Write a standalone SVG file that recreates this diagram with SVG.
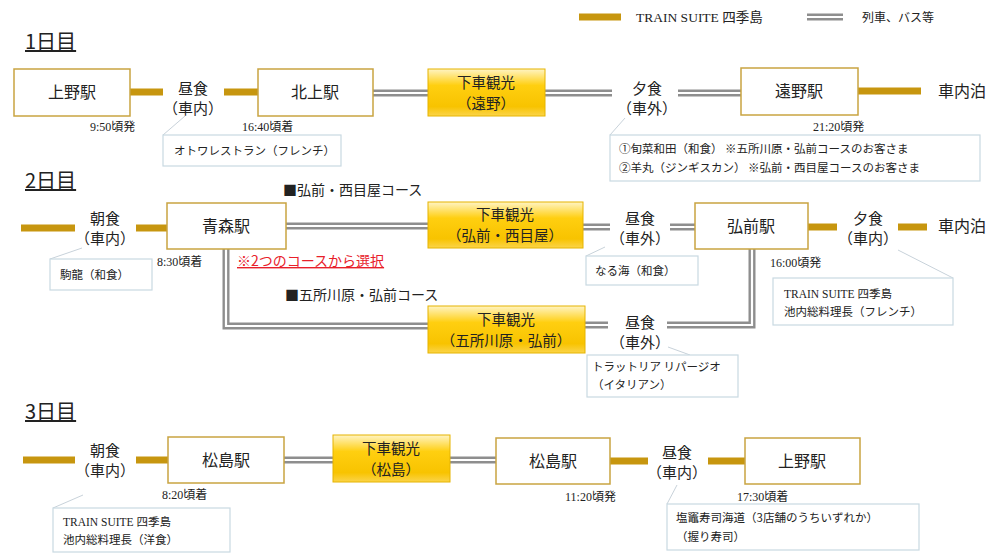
<svg xmlns="http://www.w3.org/2000/svg" width="1005" height="559" viewBox="0 0 1005 559">
<defs>
<linearGradient id="gold" x1="0" y1="0" x2="0" y2="1">
<stop offset="0" stop-color="#fff4c4"/>
<stop offset="0.35" stop-color="#ffcf10"/>
<stop offset="0.8" stop-color="#f8c300"/>
<stop offset="1" stop-color="#fbd44a"/>
</linearGradient>
<style>
text{font-family:"Noto Sans CJK JP","Liberation Sans",sans-serif;fill:#222}
.st{fill:#fff;stroke:#c9a441;stroke-width:1.5}
.sg{fill:url(#gold);stroke:#e6b400;stroke-width:1}
.nl{font-size:16px;text-anchor:middle}
.gl{font-size:14.5px;text-anchor:middle}
.ml{font-size:15px;text-anchor:middle}
.tm{font-family:"Liberation Serif","Noto Sans CJK JP",serif;font-size:12px}
.cb{fill:#fff;stroke:#c9d9e2;stroke-width:1.2}
.ct{font-size:11.5px}
.ld{stroke:#c8d2da;stroke-width:1;fill:none}
.gb{stroke:#c7960f;stroke-width:7;fill:none}
.dbo{stroke:#8e8e8e;stroke-width:7;fill:none}
.dbi{stroke:#fff;stroke-width:2.2;fill:none}
.day{font-size:20px;text-decoration:underline}
.crs{font-size:14px}
</style>
</defs>

<!-- legend -->
<g id="legend">
<line class="gb" x1="579" y1="17" x2="621" y2="17"/>
<text class="tm" x="636" y="22" style="font-size:13.5px">TRAIN SUITE 四季島</text>
<line class="dbo" x1="807" y1="17" x2="843" y2="17"/>
<line class="dbi" x1="807" y1="17" x2="843" y2="17"/>
<text x="862" y="22" style="font-size:12px">列車、バス等</text>
</g>

<!-- day headers -->
<text class="day" x="25" y="49">1日目</text>
<text class="day" x="25" y="188">2日目</text>
<text class="day" x="25" y="419">3日目</text>

<!-- connectors -->
<g id="connectors">
<!-- day 1 -->
<line class="gb" x1="130" y1="92" x2="163" y2="92"/>
<line class="gb" x1="224" y1="92" x2="258" y2="92"/>
<path class="dbo" d="M373 93H428M545 93H612M678 93H741"/>
<path class="dbi" d="M373 93H428M545 93H612M678 93H741"/>
<line class="gb" x1="858" y1="91" x2="921" y2="91"/>
<!-- day 2 -->
<line class="gb" x1="21" y1="228" x2="75" y2="228"/>
<line class="gb" x1="136" y1="228" x2="167" y2="228"/>
<path class="dbo" d="M286 226H428M583 227H610M670 227H695M226 249V326H428M585 325H608M667 325H752V249"/>
<path class="dbi" d="M286 226H428M583 227H610M670 227H695M226 249V326H428M585 325H608M667 325H752V249"/>
<line class="gb" x1="808" y1="227" x2="837" y2="227"/>
<line class="gb" x1="898" y1="227" x2="927" y2="227"/>
<!-- day 3 -->
<line class="gb" x1="23" y1="460" x2="75" y2="460"/>
<line class="gb" x1="136" y1="460" x2="168" y2="460"/>
<path class="dbo" d="M284 460H333M450 460H496"/>
<path class="dbi" d="M284 460H333M450 460H496"/>
<line class="gb" x1="610" y1="461" x2="648" y2="461"/>
<line class="gb" x1="708" y1="461" x2="745" y2="461"/>
<!-- leaders -->
<path class="ld" d="M185 116L163 135M625 118L610 135M82 248L50 259M605 247L586 256M898 250L953 278M668 347L690 355M83 495L53 508M677 485L667 504"/>
</g>

<!-- day 1 nodes -->
<g id="d1-ueno"><rect class="st" x="14" y="69" width="116" height="47"/><text class="nl" x="72" y="98">上野駅</text></g>
<g id="d1-lunch"><text class="ml" x="193" y="94">昼食</text><text class="ml" x="193" y="114">（車内）</text></g>
<g id="d1-kitakami"><rect class="st" x="258" y="69" width="115" height="47"/><text class="nl" x="315" y="98">北上駅</text></g>
<g id="d1-tono-sight"><rect class="sg" x="428" y="69" width="117" height="47"/><text class="gl" x="486" y="88">下車観光</text><text class="gl" x="486" y="109">（遠野）</text></g>
<g id="d1-dinner"><text class="ml" x="647" y="94">夕食</text><text class="ml" x="647" y="114">（車外）</text></g>
<g id="d1-tono"><rect class="st" x="741" y="68" width="117" height="47"/><text class="nl" x="799" y="97">遠野駅</text></g>
<g id="d1-stay"><text class="nl" x="962" y="97">車内泊</text></g>
<text class="tm" x="90" y="131">9:50頃発</text>
<text class="tm" x="242" y="131">16:40頃着</text>
<text class="tm" x="813" y="131">21:20頃発</text>
<g id="d1-c1"><rect class="cb" x="163" y="135" width="178" height="31"/><text class="ct" x="174" y="155">オトワレストラン（フレンチ）</text></g>
<g id="d1-c2"><rect class="cb" x="610" y="135" width="370" height="46"/><text class="ct" x="619" y="153">①旬菜和田（和食） ※五所川原・弘前コースのお客さま</text><text class="ct" x="619" y="172">②羊丸（ジンギスカン） ※弘前・西目屋コースのお客さま</text></g>

<!-- day 2 nodes -->
<g id="d2-breakfast"><text class="ml" x="105" y="224">朝食</text><text class="ml" x="105" y="244">（車内）</text></g>
<g id="d2-aomori"><rect class="st" x="167" y="203" width="119" height="46"/><text class="nl" x="226" y="232">青森駅</text></g>
<text class="crs" x="283" y="195">■弘前・西目屋コース</text>
<text x="237" y="266" style="font-size:14px;fill:#e8202a;text-decoration:underline">※2つのコースから選択</text>
<text class="crs" x="285" y="300">■五所川原・弘前コース</text>
<g id="d2-sight-a"><rect class="sg" x="428" y="202" width="155" height="46"/><text class="gl" x="505" y="220">下車観光</text><text class="gl" x="505" y="241">（弘前・西目屋）</text></g>
<g id="d2-sight-b"><rect class="sg" x="428" y="306" width="157" height="47"/><text class="gl" x="506" y="325">下車観光</text><text class="gl" x="506" y="346">（五所川原・弘前）</text></g>
<g id="d2-lunch-a"><text class="ml" x="640" y="224">昼食</text><text class="ml" x="640" y="244">（車外）</text></g>
<g id="d2-lunch-b"><text class="ml" x="640" y="328">昼食</text><text class="ml" x="640" y="348">（車外）</text></g>
<g id="d2-hirosaki"><rect class="st" x="695" y="203" width="113" height="46"/><text class="nl" x="751" y="232">弘前駅</text></g>
<g id="d2-dinner"><text class="ml" x="868" y="224">夕食</text><text class="ml" x="868" y="244">（車内）</text></g>
<g id="d2-stay"><text class="nl" x="962" y="232">車内泊</text></g>
<text class="tm" x="157" y="266">8:30頃着</text>
<text class="tm" x="770" y="267">16:00頃発</text>
<g id="d2-c1"><rect class="cb" x="50" y="259" width="102" height="31"/><text class="ct" x="60" y="279">駒龍（和食）</text></g>
<g id="d2-c2"><rect class="cb" x="586" y="256" width="112" height="29"/><text class="ct" x="595" y="275">なる海（和食）</text></g>
<g id="d2-c3"><rect class="cb" x="773" y="278" width="180" height="47"/><text class="ct tm" x="784" y="298">TRAIN SUITE 四季島</text><text class="ct" x="784" y="316">池内総料理長（フレンチ）</text></g>
<g id="d2-c4"><rect class="cb" x="587" y="355" width="151" height="42"/><text class="ct" x="592" y="371">トラットリア リパージオ</text><text class="ct" x="592" y="389">（イタリアン）</text></g>

<!-- day 3 nodes -->
<g id="d3-breakfast"><text class="ml" x="105" y="456">朝食</text><text class="ml" x="105" y="476">（車内）</text></g>
<g id="d3-matsushima1"><rect class="st" x="168" y="437" width="116" height="46"/><text class="nl" x="226" y="466">松島駅</text></g>
<g id="d3-sight"><rect class="sg" x="333" y="435" width="117" height="47"/><text class="gl" x="391" y="454">下車観光</text><text class="gl" x="391" y="475">（松島）</text></g>
<g id="d3-matsushima2"><rect class="st" x="496" y="438" width="114" height="46"/><text class="nl" x="553" y="467">松島駅</text></g>
<g id="d3-lunch"><text class="ml" x="677" y="458">昼食</text><text class="ml" x="677" y="478">（車内）</text></g>
<g id="d3-ueno"><rect class="st" x="745" y="438" width="115" height="46"/><text class="nl" x="802" y="467">上野駅</text></g>
<text class="tm" x="162" y="499">8:20頃着</text>
<text class="tm" x="565" y="501">11:20頃発</text>
<text class="tm" x="737" y="501">17:30頃着</text>
<g id="d3-c1"><rect class="cb" x="53" y="508" width="177" height="44"/><text class="ct tm" x="63" y="526">TRAIN SUITE 四季島</text><text class="ct" x="63" y="544">池内総料理長（洋食）</text></g>
<g id="d3-c2"><rect class="cb" x="667" y="504" width="252" height="46"/><text class="ct" x="676" y="522">塩竈寿司海道（3店舗のうちいずれか）</text><text class="ct" x="676" y="541">（握り寿司）</text></g>
</svg>
